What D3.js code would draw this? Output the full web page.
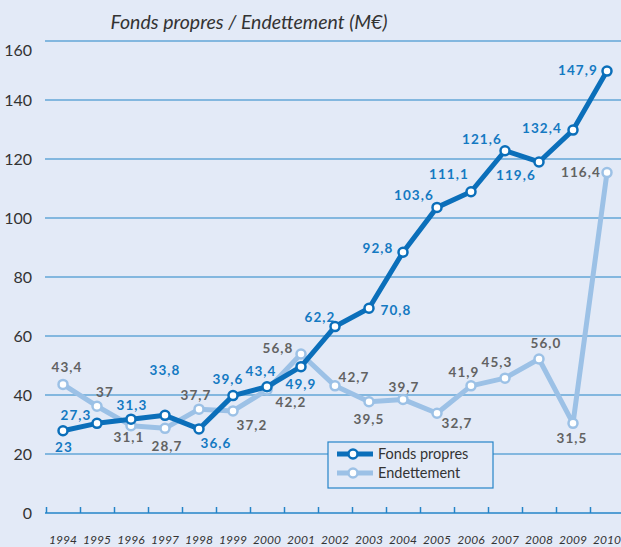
<!DOCTYPE html>
<html>
<head>
<meta charset="utf-8">
<script src="https://cdn.jsdelivr.net/npm/d3@7.9.0/dist/d3.min.js"></script>
<style>
  html, body { margin: 0; padding: 0; background: #e3eaf7; }
  svg { display: block; font-family: Lato, "Open Sans", sans-serif; }
</style>
</head>
<body>
<svg id="chart" width="621" height="547"></svg>
<script>
// ---------- Data ----------
const years = [1994, 1995, 1996, 1997, 1998, 1999, 2000, 2001, 2002,
  2003, 2004, 2005, 2006, 2007, 2008, 2009, 2010];

// plotted values (as drawn)
const fondsPropres = [27.9, 30.4, 31.8, 33.1, 28.5, 39.8, 42.8, 49.6, 63.2,
  69.4, 88.4, 103.6, 108.9, 122.8, 119.0, 129.8, 149.8];
const endettement = [43.6, 36.2, 29.6, 28.7, 35.2, 34.6, 41.7, 53.9, 43.1,
  37.7, 38.5, 33.8, 43.1, 45.7, 52.2, 30.4, 115.4];

// printed labels
const fondsLabels = ["23", "27,3", "31,3", "33,8", "36,6", "39,6", "43,4", "49,9",
  "62,2", "70,8", "92,8", "103,6", "111,1", "121,6", "119,6", "132,4", "147,9"];
const endetLabels = ["43,4", "37", "31,1", "28,7", "37,7", "37,2", "42,2", "56,8",
  "42,7", "39,5", "39,7", "32,7", "41,9", "45,3", "56,0", "31,5", "116,4"];

const yTicks = [0, 20, 40, 60, 80, 100, 120, 140, 160];

// label placement (offset from point, px)
const fondsOffsets = [[1, 17], [-21, -8], [1, -14], [0, -45], [17, 14], [-5, -16],
  [-6, -15], [0, 18], [-15, -9], [27, 2], [-25, -4], [-23, -12], [-22, -17],
  [-23, -11], [-23, 13], [-31, -2], [-29, -1]];
const endetOffsets = [[4, -17], [8, -14], [-2, 12], [2, 18], [-3, -14], [19, 14],
  [24, 12], [-23, -6], [19, -9], [0, 17], [1, -12], [20, 10], [-7, -14],
  [-8, -16], [7, -16], [-1, 15], [-26, 0]];

// ---------- Styles ----------
const darkBlue = "#0b6fba";
const lightBlue = "#9cc1e6";
const gridBlue = "#2584c8";
const textDark = "#333333";
const labelBlue = "#1479c2";
const labelGray = "#626262";

const svg = d3.select("#chart");

const x = d3.scaleLinear().domain([1993.5, 2010.5]).range([46, 624]);
const y = d3.scaleLinear().domain([0, 160]).range([513, 41]);

// title
svg.append("text")
  .attr("x", 249)
  .attr("y", 29)
  .attr("text-anchor", "middle")
  .attr("font-style", "italic")
  .attr("font-size", 19.5)
  .attr("fill", textDark)
  .text("Fonds propres / Endettement (M€)");

// gridlines
svg.append("g")
  .selectAll("line")
  .data(yTicks.filter((d) => d > 0))
  .join("line")
  .attr("x1", 45)
  .attr("x2", 621)
  .attr("y1", (d) => y(d))
  .attr("y2", (d) => y(d))
  .attr("stroke", gridBlue)
  .attr("stroke-width", 1.2);

// y labels
svg.append("g")
  .selectAll("text")
  .data(yTicks)
  .join("text")
  .attr("x", 32)
  .attr("y", (d) => y(d) + (d === 160 ? 9 : 0))
  .attr("dy", "0.35em")
  .attr("text-anchor", "end")
  .attr("font-size", 16)
  .attr("fill", textDark)
  .text((d) => d);

// x axis
const xAxis = svg.append("g")
  .attr("transform", `translate(0, ${y(0)})`)
  .call(
    d3.axisBottom(x)
      .tickValues(years.map((d) => d - 0.5))
      .tickSize(-6)
      .tickSizeOuter(0)
      .tickFormat("")
  );
xAxis.select(".domain").attr("stroke", gridBlue).attr("stroke-width", 1.5)
  .attr("d", `M45,0H621`);
xAxis.selectAll(".tick line").attr("stroke", gridBlue).attr("stroke-width", 1.5);

svg.append("g")
  .selectAll("text")
  .data(years)
  .join("text")
  .attr("x", (d) => x(d))
  .attr("y", 540)
  .attr("dy", "0.35em")
  .attr("text-anchor", "middle")
  .attr("font-style", "italic")
  .attr("font-size", 12)
  .attr("fill", textDark)
  .text((d) => d);

// ---------- Series ----------
const line = d3.line()
  .x((d) => x(d[0]))
  .y((d) => y(d[1]));

const series = [
  { name: "Endettement", values: endettement, color: lightBlue,
    labels: endetLabels, offsets: endetOffsets, labelColor: labelGray },
  { name: "Fonds propres", values: fondsPropres, color: darkBlue,
    labels: fondsLabels, offsets: fondsOffsets, labelColor: labelBlue },
];

series.forEach((s) => {
  const pts = years.map((yr, i) => [yr, s.values[i]]);
  const g = svg.append("g");
  g.append("path")
    .attr("d", line(pts))
    .attr("fill", "none")
    .attr("stroke", s.color)
    .attr("stroke-width", 5)
    .attr("stroke-linejoin", "round");
  g.selectAll("circle")
    .data(pts)
    .join("circle")
    .attr("cx", (d) => x(d[0]))
    .attr("cy", (d) => y(d[1]))
    .attr("r", 4.5)
    .attr("fill", "#ffffff")
    .attr("stroke", s.color)
    .attr("stroke-width", 2.5);
});

// data labels (on top)
series.forEach((s) => {
  svg.append("g")
    .selectAll("text")
    .data(years)
    .join("text")
    .attr("x", (d, i) => x(d) + s.offsets[i][0])
    .attr("y", (d, i) => y(s.values[i]) + s.offsets[i][1])
    .attr("dy", "0.35em")
    .attr("text-anchor", "middle")
    .attr("font-size", 13.5)
    .attr("font-weight", "bold")
    .attr("letter-spacing", 1.1)
    .attr("fill", s.labelColor)
    .text((d, i) => s.labels[i]);
});

// ---------- Legend ----------
const legend = svg.append("g").attr("transform", "translate(328, 442)");
legend.append("rect")
  .attr("width", 165)
  .attr("height", 46)
  .attr("fill", "#e3eaf7")
  .attr("stroke", gridBlue)
  .attr("stroke-width", 1.2);

[series[1], series[0]].forEach((s, i) => {
  const row = legend.append("g").attr("transform", `translate(0, ${12 + i * 19})`);
  row.append("line")
    .attr("x1", 9).attr("x2", 45)
    .attr("stroke", s.color).attr("stroke-width", 5);
  row.append("circle")
    .attr("cx", 25).attr("r", 4.5)
    .attr("fill", "#ffffff").attr("stroke", s.color).attr("stroke-width", 2.5);
  row.append("text")
    .attr("x", 50).attr("dy", "0.35em")
    .attr("font-size", 14.5)
    .attr("fill", textDark)
    .text(s.name);
});
</script>
</body>
</html>
